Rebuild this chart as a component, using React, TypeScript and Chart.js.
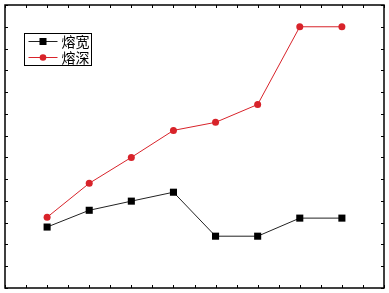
import React, { useEffect, useRef } from "react";
import { Chart, registerables } from "chart.js";

Chart.register(...registerables);

const positions = [1, 2, 3, 4, 5, 6, 7, 8];
const widthValues = [2.8, 3.57, 3.99, 4.4, 2.38, 2.38, 3.21, 3.21];
const depthValues = [3.25, 4.81, 6.0, 7.24, 7.61, 8.43, 12.0, 12.0];
const seriesNames = ["熔宽", "熔深"];

const BLACK = "#000000";
const RED = "#d8232a";

const framePlugin = {
  id: "frameTicks",
  afterDraw(chart: any) {
    const { ctx, chartArea, scales } = chart;
    const { left, right, top, bottom } = chartArea;
    ctx.save();
    ctx.strokeStyle = "#000";
    ctx.lineWidth = 1;
    const tl = 3;
    const xs = scales.x;
    for (let v = xs.min; v <= xs.max + 1e-9; v += 0.5) {
      const px = Math.round(xs.getPixelForValue(v)) + 0.5;
      ctx.beginPath();
      ctx.moveTo(px, bottom);
      ctx.lineTo(px, bottom - tl);
      ctx.moveTo(px, top);
      ctx.lineTo(px, top + tl);
      ctx.stroke();
    }
    const ys = scales.y;
    for (let v = ys.min; v <= ys.max + 1e-9; v += 1) {
      const py = Math.round(ys.getPixelForValue(v)) + 0.5;
      ctx.beginPath();
      ctx.moveTo(left, py);
      ctx.lineTo(left + tl, py);
      ctx.moveTo(right, py);
      ctx.lineTo(right - tl, py);
      ctx.stroke();
    }
    ctx.lineWidth = 1.5;
    ctx.strokeRect(left, top, right - left, bottom - top);

    // legend
    const lx = left + 19.5;
    const ly = top + 28.5;
    const lw = 67;
    const lh = 32;
    ctx.fillStyle = "#fff";
    ctx.fillRect(lx, ly, lw, lh);
    ctx.lineWidth = 1;
    ctx.strokeStyle = "#000";
    ctx.strokeRect(lx, ly, lw, lh);
    chart.data.datasets.forEach((ds: any, i: number) => {
      const cy = ly + 8 + i * 16;
      ctx.strokeStyle = ds.borderColor;
      ctx.lineWidth = 1;
      ctx.beginPath();
      ctx.moveTo(lx + 4, cy);
      ctx.lineTo(lx + 33, cy);
      ctx.stroke();
      ctx.fillStyle = ds.pointBackgroundColor;
      if (ds.pointStyle === "rect") {
        ctx.fillRect(lx + 18.5 - 3.5, cy - 3.5, 7, 7);
      } else {
        ctx.beginPath();
        ctx.arc(lx + 18.5, cy, 3.3, 0, Math.PI * 2);
        ctx.fill();
      }
      ctx.fillStyle = "#000";
      ctx.font = '14px "Noto Sans CJK SC"';
      ctx.textBaseline = "middle";
      ctx.textAlign = "left";
      ctx.fillText(ds.label, lx + 37, cy);
    });
    ctx.restore();
  },
};

export default function App() {
  const ref = useRef<HTMLCanvasElement>(null);
  useEffect(() => {
    document.body.style.margin = "0";
    const chart = new Chart(ref.current!, {
      type: "line",
      data: {
        datasets: [
          {
            label: seriesNames[0],
            data: positions.map((x, i) => ({ x, y: widthValues[i] })),
            borderColor: "#222",
            borderWidth: 1,
            pointStyle: "rect",
            pointRadius: 5,
            pointBackgroundColor: BLACK,
            pointBorderColor: BLACK,
            pointBorderWidth: 0,
          },
          {
            label: seriesNames[1],
            data: positions.map((x, i) => ({ x, y: depthValues[i] })),
            borderColor: RED,
            borderWidth: 1,
            pointStyle: "circle",
            pointRadius: 3.5,
            pointBackgroundColor: RED,
            pointBorderColor: RED,
            pointBorderWidth: 0,
          },
        ],
      },
      options: {
        animation: false,
        responsive: false,
        layout: { padding: { left: 4, top: 4, right: 4, bottom: 5 } },
        plugins: { legend: { display: false }, tooltip: { enabled: false } },
        scales: {
          x: { type: "linear", min: 0, max: 9, display: false },
          y: { type: "linear", min: 0, max: 13, display: false },
        },
      },
      plugins: [framePlugin],
    });
    return () => chart.destroy();
  }, []);
  return (
    <div style={{ width: 389, height: 293, background: "#fff" }}>
      <canvas ref={ref} width={389} height={293} />
    </div>
  );
}
